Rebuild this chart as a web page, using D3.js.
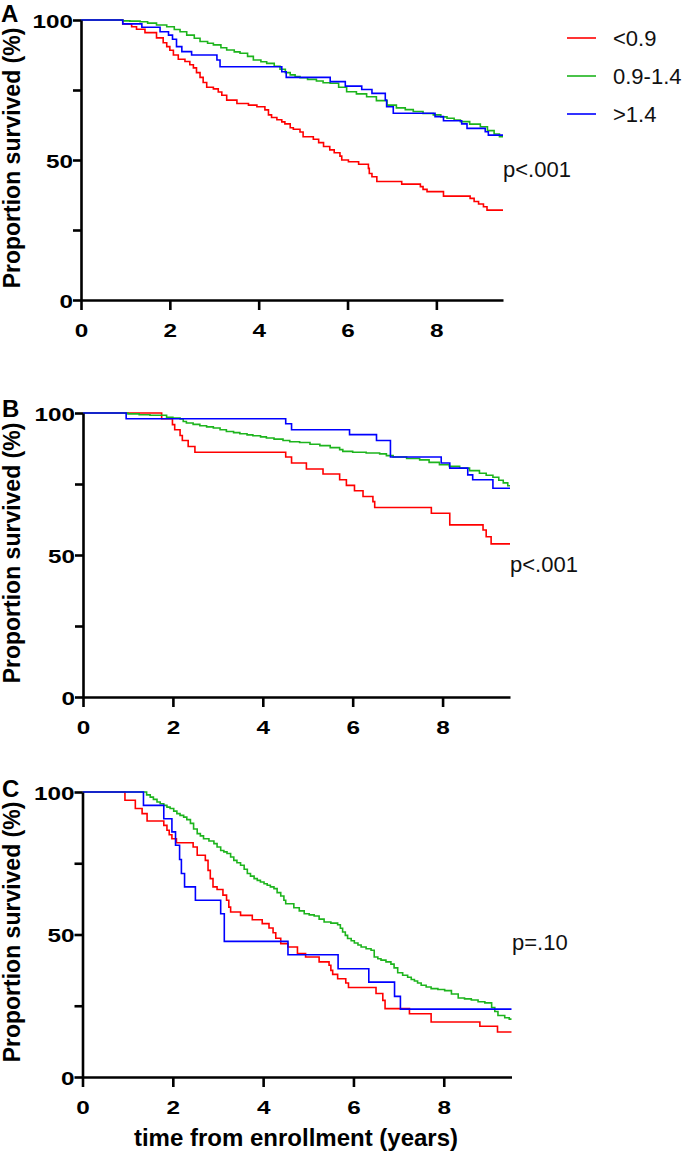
<!DOCTYPE html>
<html><head><meta charset="utf-8">
<script src="https://cdn.jsdelivr.net/npm/d3@7"></script>
<style>
html,body{margin:0;padding:0;background:#fff;}
svg{display:block;font-family:"Liberation Sans",Arial,Helvetica,sans-serif;}
</style></head>
<body>
<svg id="chart" width="685" height="1153"></svg>
<script>
// ---------- data ----------
const groups = ["<0.9", "0.9-1.4", ">1.4"];
const groupColors = ["#ff0000", "#1db41d", "#0000ff"];
const panelLabels = ["A", "B", "C"];
const pValues = ["p<.001", "p<.001", "p=.10"];
const xTicks = [0, 2, 4, 6, 8];
const yTicks = [0, 25, 50, 75, 100];
const yTickLabels = [0, 50, 100];
const xMax = 9.5;
const yAxisTitle = "Proportion survived (%)";
const xAxisTitle = "time from enrollment (years)";

// Panel A  [time (years), survival %] after each step
const A_low = [[0,100],[0.94,98.6],[1.14,97.6],[1.25,96.7],[1.44,95.5],[1.70,93.6],[1.85,91.9],[1.93,90.5],[2.0,89.2],[2.08,87.5],[2.19,86],[2.34,85.2],[2.45,84],[2.53,82.9],[2.60,81.2],[2.68,79.5],[2.75,77.7],[2.83,76],[2.98,75.4],[3.09,74.3],[3.17,73.1],[3.28,71.4],[3.51,70.2],[3.77,69.6],[3.96,69],[4.14,67.9],[4.22,66.1],[4.29,65.2],[4.41,64.4],[4.52,63.6],[4.59,62.9],[4.71,61.5],[4.78,61],[4.93,60],[5.0,58.3],[5.23,57.4],[5.35,56.2],[5.46,54.8],[5.6,53.6],[5.7,52.6],[5.83,51.4],[5.87,50],[6.02,49.4],[6.25,48.5],[6.47,47],[6.49,45.2],[6.55,44],[6.66,42.3],[7.22,41.4],[7.64,40.5],[7.70,39.5],[7.79,38.7],[8.16,37.1],[8.76,36.3],[8.85,35.2],[8.95,34.3],[9.06,33.3],[9.14,32.1]];
const A_mid = [[0,100],[0.94,99.7],[1.1,99.6],[1.33,99.4],[1.5,98.9],[1.70,98.2],[1.93,97.6],[2.1,96.6],[2.23,95.8],[2.38,94.6],[2.55,93.5],[2.68,92.3],[2.85,91.7],[2.98,91.1],[3.15,90.1],[3.28,89.3],[3.45,88.6],[3.58,88.1],[3.75,87],[3.88,85.7],[4.05,85.1],[4.18,84.5],[4.35,83.5],[4.48,82.4],[4.6,81.2],[4.71,80.4],[4.82,79.8],[4.93,79.4],[5.1,78.8],[5.3,78.2],[5.45,77.6],[5.61,77.4],[5.8,76],[5.98,74.4],[6.2,73.6],[6.43,72.6],[6.65,71.2],[6.89,69.6],[7.1,68.6],[7.3,68],[7.48,67.3],[7.7,66.6],[7.93,66.1],[8.1,65.4],[8.24,64.9],[8.4,64.3],[8.54,63.7],[8.75,62.8],[8.99,61.9],[9.15,60.5],[9.3,59.3],[9.42,58.3]];
const A_high = [[0,100],[0.94,98.6],[1.37,97.4],[1.78,95.8],[1.97,94.6],[2.06,93.1],[2.15,90.5],[2.27,88.7],[2.49,87.5],[3.06,85.7],[3.13,83.3],[4.52,81.5],[4.62,79.5],[5.61,78.0],[5.95,76.4],[6.32,75.2],[6.55,73.8],[6.85,71.4],[6.88,69],[7.03,66.7],[7.97,65.5],[8.16,64],[8.57,62.9],[8.69,61.3],[9.10,60.1],[9.17,58.9]];

// Panel B
const B_low = [[0,100],[1.75,98],[1.99,95.9],[2.04,94.1],[2.16,92.1],[2.21,90.3],[2.34,88.2],[2.49,86.2],[4.51,84.5],[4.64,82.4],[4.97,80.3],[5.34,78.5],[5.71,76.5],[5.86,74.5],[6.04,72.6],[6.23,70.6],[6.45,68.8],[6.49,66.7],[7.75,64.7],[8.16,60.6],[8.90,58.8],[8.97,56.4],[9.08,53.9]];
const B_mid = [[0,100],[1.0,99.7],[1.25,99.4],[1.49,99.2],[1.86,98.5],[2.0,98.2],[2.16,97.9],[2.23,97.0],[2.30,96.5],[2.45,96],[2.60,95.5],[2.75,95.1],[2.90,94.7],[3.05,94.1],[3.19,93.5],[3.35,93.1],[3.49,92.7],[3.65,92.3],[3.78,92.0],[3.95,91.6],[4.08,91.2],[4.25,90.8],[4.45,90.3],[4.6,89.9],[4.82,89.6],[5.05,89],[5.27,88.5],[5.5,87.8],[5.71,87.1],[5.78,86.5],[6.0,86.2],[6.3,85.9],[6.6,85.6],[6.75,85],[6.90,84.5],[7.2,84],[7.49,83.5],[7.7,82.6],[7.93,81.8],[8.15,81.2],[8.38,80.6],[8.6,79.7],[8.82,78.8],[8.97,78.1],[9.12,77.4],[9.25,76.3],[9.35,75.4],[9.45,74.4]];
const B_high = [[0,100],[0.96,98.0],[4.51,96.2],[4.64,94.1],[5.93,92.4],[6.53,90.3],[6.84,84.5],[7.97,82.4],[8.16,80.6],[8.56,78.2],[8.67,76.5],[9.12,73.5]];

// Panel C
const C_low = [[0,100],[0.94,97.1],[1.17,94.2],[1.32,92.4],[1.43,89.8],[1.80,88.3],[1.87,86.6],[1.92,85.0],[1.98,83.6],[2.08,82.2],[2.45,80.7],[2.54,77.8],[2.72,76.0],[2.78,72.5],[2.83,69.6],[2.89,66.7],[2.98,65.8],[3.11,63.8],[3.19,62.0],[3.24,59.6],[3.28,57.9],[3.5,56.7],[3.76,55.2],[3.98,53.8],[4.13,52.3],[4.22,50.6],[4.28,48.7],[4.39,46.8],[4.55,45.6],[4.76,43.3],[4.94,42.1],[5.24,40.4],[5.46,39.2],[5.5,37.4],[5.54,36.0],[5.65,34.5],[5.83,33.0],[5.89,31.4],[6.5,29.3],[6.65,26.9],[6.70,24.0],[7.24,22.2],[7.72,19.3],[8.80,17.8],[9.19,15.8]];
const C_mid = [[0,100],[1.35,100],[1.42,99],[1.5,98.2],[1.57,97.4],[1.65,96.5],[1.72,95.9],[1.80,95.3],[1.87,94.7],[1.94,94.2],[2.02,93.3],[2.09,92.4],[2.16,91.8],[2.24,91.2],[2.31,90.3],[2.39,89.0],[2.46,87.0],[2.54,85.4],[2.61,84.6],[2.68,83.6],[2.8,82.8],[2.91,81.9],[2.98,80.7],[3.06,79.5],[3.13,79.0],[3.20,78.4],[3.28,77.2],[3.35,76.0],[3.42,75.2],[3.50,74.3],[3.58,72.9],[3.65,71.4],[3.72,70.5],[3.80,69.6],[3.87,69.0],[3.94,68.4],[4.02,67.8],[4.09,67.3],[4.16,66.7],[4.24,66.1],[4.31,64.7],[4.39,63.5],[4.46,62.0],[4.5,60.8],[4.68,59.4],[4.8,58.3],[4.91,57.3],[5.02,56.9],[5.13,56.5],[5.24,55.4],[5.35,54.4],[5.5,54.0],[5.65,53.4],[5.71,52.2],[5.76,50.9],[5.82,49.7],[5.87,48.6],[5.95,47.8],[6.02,47.0],[6.1,46.3],[6.17,45.6],[6.28,45.0],[6.39,44.5],[6.46,42.1],[6.54,41.5],[6.61,41.0],[6.72,40.4],[6.83,39.6],[6.9,38.3],[6.98,36.6],[7.09,35.7],[7.20,35.0],[7.28,34.2],[7.35,33.7],[7.42,33.0],[7.50,32.2],[7.61,31.6],[7.72,31.0],[7.87,30.7],[8.02,30.3],[8.17,29.1],[8.32,27.7],[8.46,27.4],[8.61,27.0],[8.76,26.4],[8.91,26.0],[9.06,24.4],[9.13,23.0],[9.20,21.6],[9.35,20.8],[9.45,20.3]];
const C_high = [[0,100],[1.35,95.3],[1.80,90.6],[1.98,86.0],[2.06,81.3],[2.15,76.3],[2.19,71.4],[2.26,66.7],[2.5,62.0],[3.06,57.3],[3.14,47.6],[4.55,42.9],[5.66,38.0],[6.34,33.3],[6.91,28.3],[7.04,23.8]];

const panelSeries = [[A_low, A_mid, A_high], [B_low, B_mid, B_high], [C_low, C_mid, C_high]];

// ---------- layout ----------
const panels = [
  {x0: 81,   x1: 503,   yTop: 20,  yBot: 300,  lab: [1, 22],   ttl: 158, pv: [503, 177]},
  {x0: 83,   x1: 510,   yTop: 413, yBot: 697,  lab: [2, 417],  ttl: 553, pv: [510, 572]},
  {x0: 82.5, x1: 511.5, yTop: 792, yBot: 1077, lab: [2, 797],  ttl: 932, pv: [512, 950]}
];

const svg = d3.select("#chart");
const FONT = '"Liberation Sans",Arial,Helvetica,sans-serif';
const TICK_STRETCH = 1.28;

panels.forEach((p, i) => {
  const x = d3.scaleLinear().domain([0, xMax]).range([p.x0, p.x1]);
  const y = d3.scaleLinear().domain([0, 100]).range([p.yBot, p.yTop]);
  const g = svg.append("g");

  // curves
  const line = d3.line().x(d => x(d[0])).y(d => y(d[1])).curve(d3.curveStepAfter);
  panelSeries[i].forEach((s, k) => {
    const pts = s.concat([[xMax, s[s.length - 1][1]]]);
    g.append("path").attr("d", line(pts)).attr("fill", "none")
      .attr("stroke", groupColors[k]).attr("stroke-width", 1.6);
  });

  // axes
  const yAxis = d3.axisLeft(y).tickValues(yTicks).tickSize(8).tickSizeOuter(0)
    .tickFormat(d => yTickLabels.includes(d) ? d : "");
  const gy = g.append("g").attr("transform", `translate(${p.x0},0)`).call(yAxis);
  const xAxis = d3.axisBottom(x).tickValues(xTicks).tickSize(10).tickSizeOuter(0);
  const gx = g.append("g").attr("transform", `translate(0,${p.yBot})`).call(xAxis);
  [gy, gx].forEach(a => {
    a.select(".domain").attr("stroke", "#000").attr("stroke-width", 2.6);
    a.selectAll(".tick line").attr("stroke", "#000").attr("stroke-width", 2.6);
    a.selectAll(".tick text").attr("fill", "#000").style("font-family", FONT)
      .style("font-weight", "bold").style("font-size", "19px")
      .attr("x", 0).attr("y", 0).attr("dy", null);
  });
  gy.selectAll(".tick text").attr("text-anchor", "end")
    .attr("transform", `translate(-8,7) scale(${TICK_STRETCH},1)`);
  gx.selectAll(".tick text").attr("text-anchor", "middle")
    .attr("transform", `translate(0,37) scale(${TICK_STRETCH},1)`);

  // y title
  g.append("text").attr("transform", `translate(20,${p.ttl}) rotate(-90)`)
    .attr("text-anchor", "middle").style("font-family", FONT).style("font-weight", "bold")
    .style("font-size", "23px").text(yAxisTitle);

  // panel label
  g.append("text").attr("x", p.lab[0]).attr("y", p.lab[1]).style("font-family", FONT)
    .style("font-weight", "bold").style("font-size", "24px").text(panelLabels[i]);

  // p value
  g.append("text").attr("x", p.pv[0]).attr("y", p.pv[1]).style("font-family", FONT)
    .style("font-size", "22px").attr("fill", "#111").text(pValues[i]);

  if (i === 0) {
    const leg = g.append("g");
    groups.forEach((name, k) => {
      const ly = 38 + k * 38;
      leg.append("line").attr("x1", 567).attr("x2", 596).attr("y1", ly).attr("y2", ly)
        .attr("stroke", groupColors[k]).attr("stroke-width", 1.6);
      leg.append("text").attr("x", 613).attr("y", ly + 7.5).style("font-family", FONT)
        .style("font-size", "22px").attr("fill", "#111").text(name);
    });
  }
  if (i === 2) {
    g.append("text").attr("x", 296).attr("y", 1146)
      .attr("text-anchor", "middle").style("font-family", FONT).style("font-weight", "bold")
      .style("font-size", "24px").text(xAxisTitle);
  }
});
</script>
</body></html>
